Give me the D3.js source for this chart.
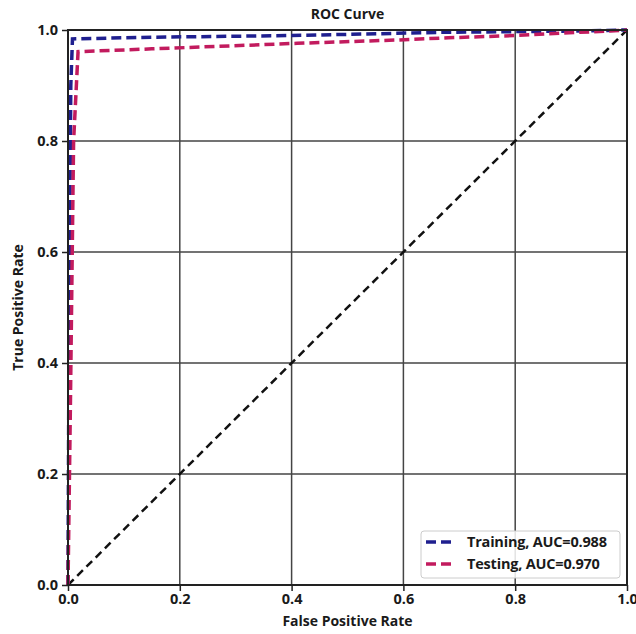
<!DOCTYPE html>
<html>
<head>
<meta charset="utf-8">
<script src="https://cdn.jsdelivr.net/npm/d3@7"></script>
<style>
  body { margin: 0; background: #fff; }
  svg text { font-family: "Open Sans", sans-serif; font-weight: 700; fill: #1a1a1a; }
  .grid line { stroke: #444; stroke-width: 1.5; }
</style>
</head>
<body>
<div class="wrapper"></div>
<script>
var width = 636, height = 634;
var margin = { top: 30, right: 9, bottom: 49, left: 68 };

var ticks = [0, 0.2, 0.4, 0.6, 0.8, 1.0];
var tickLabels = ["0.0", "0.2", "0.4", "0.6", "0.8", "1.0"];

// ROC points [fpr, tpr]
var trainFpr = [0, 0.002, 0.005, 0.008, 0.15, 0.4, 0.68, 0.9, 1.0];
var trainTpr = [0, 0.5, 0.9, 0.984, 0.987, 0.99, 0.996, 0.998, 1.0];
var testFpr = [0, 0.004, 0.01, 0.018, 0.15, 0.41, 0.59, 0.68, 0.8, 1.0];
var testTpr = [0, 0.3, 0.8, 0.961, 0.966, 0.976, 0.982, 0.986, 0.99, 1.0];

var series = [
  { label: "Training, AUC=0.988", color: "#1f1f8f", fpr: trainFpr, tpr: trainTpr },
  { label: "Testing, AUC=0.970", color: "#c21b5e", fpr: testFpr, tpr: testTpr }
];

var svg = d3.select(".wrapper").append("svg")
  .attr("width", width)
  .attr("height", height);

var plotW = width - margin.left - margin.right;
var plotH = height - margin.top - margin.bottom;

var x = d3.scaleLinear().domain([0, 1]).range([margin.left, margin.left + plotW]);
var y = d3.scaleLinear().domain([0, 1]).range([margin.top + plotH, margin.top]);

// grid
var grid = svg.append("g").attr("class", "grid");
grid.selectAll(".vx").data(ticks.slice(1, -1)).enter().append("line")
  .attr("x1", d => x(d)).attr("x2", d => x(d))
  .attr("y1", y(0)).attr("y2", y(1));
grid.selectAll(".hy").data(ticks.slice(1, -1)).enter().append("line")
  .attr("y1", d => y(d)).attr("y2", d => y(d))
  .attr("x1", x(0)).attr("x2", x(1));

// diagonal
svg.append("line")
  .attr("x1", x(0)).attr("y1", y(0))
  .attr("x2", x(1)).attr("y2", y(1))
  .attr("stroke", "#111")
  .attr("stroke-width", 2.5)
  .attr("stroke-dasharray", "8,5");

// curves
var line = d3.line().x(d => x(d[0])).y(d => y(d[1]));
series.forEach(s => {
  svg.append("path")
    .datum(s.fpr.map((f, i) => [f, s.tpr[i]]))
    .attr("fill", "none")
    .attr("stroke", s.color)
    .attr("stroke-width", 3.5)
    .attr("stroke-dasharray", "10,5")
    .attr("d", line);
});

// frame
svg.append("rect")
  .attr("x", x(0)).attr("y", y(1))
  .attr("width", plotW).attr("height", plotH)
  .attr("fill", "none")
  .attr("stroke", "#222")
  .attr("stroke-width", 2);

// axes
var xAxis = svg.append("g")
  .attr("transform", `translate(0,${y(0)})`)
  .call(d3.axisBottom(x).tickValues(ticks).tickFormat((d, i) => tickLabels[i]).tickSize(6).tickPadding(3));
var yAxis = svg.append("g")
  .attr("transform", `translate(${x(0)},0)`)
  .call(d3.axisLeft(y).tickValues(ticks).tickFormat((d, i) => tickLabels[i]).tickSize(6).tickPadding(4));
[xAxis, yAxis].forEach(a => {
  a.select(".domain").remove();
  a.selectAll(".tick line").attr("stroke", "#222").attr("stroke-width", 1.5);
  a.selectAll(".tick text").style("font-size", "14.5px").style("font-family", "'Open Sans', sans-serif").style("font-weight", 700).attr("fill", "#1a1a1a");
});

// title and labels
svg.append("text")
  .attr("x", x(0.5)).attr("y", 19)
  .attr("text-anchor", "middle")
  .style("font-size", "14px")
  .text("ROC Curve");
svg.append("text")
  .attr("x", x(0.5)).attr("y", 626)
  .attr("text-anchor", "middle")
  .style("font-size", "14px")
  .text("False Positive Rate");
svg.append("text")
  .attr("transform", `translate(23,${y(0.5)}) rotate(-90)`)
  .attr("text-anchor", "middle")
  .style("font-size", "14px")
  .text("True Positive Rate");

// legend
var legend = svg.append("g").attr("transform", "translate(421,531)");
legend.append("rect")
  .attr("width", 199).attr("height", 47)
  .attr("rx", 3)
  .attr("fill", "#fff")
  .attr("fill-opacity", 0.85)
  .attr("stroke", "#ccc");
series.forEach((s, i) => {
  var row = legend.append("g").attr("transform", `translate(0,${11 + i * 22})`);
  row.append("line")
    .attr("x1", 5).attr("x2", 33)
    .attr("stroke", s.color)
    .attr("stroke-width", 3.5)
    .attr("stroke-dasharray", "10,5");
  row.append("text")
    .attr("x", 46).attr("y", 5)
    .style("font-size", "14.5px")
    .style("letter-spacing", "-0.2px")
    .text(s.label);
});
</script>
</body>
</html>
